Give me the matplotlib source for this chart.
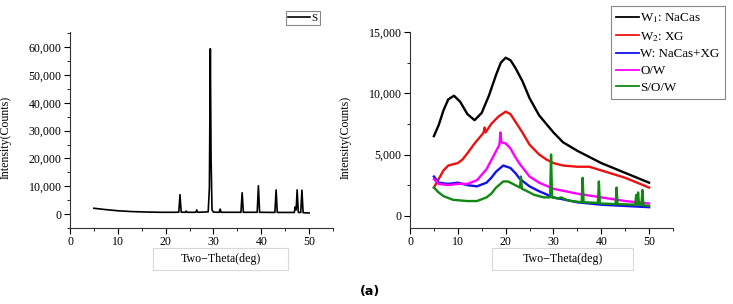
import matplotlib
matplotlib.use("Agg")
import matplotlib.pyplot as plt
from matplotlib.ticker import FuncFormatter, AutoMinorLocator, MultipleLocator
from matplotlib.patches import Rectangle

plt.rcParams['font.family'] = ['Liberation Serif', 'DejaVu Serif']
plt.rcParams['mathtext.fontset'] = 'stix'

# ---------- data: left panel (S) ----------
s_x = [5, 7, 10, 13, 16, 19, 22, 22.75, 23.0, 23.25, 24.1, 24.3, 24.5, 26.3, 26.5, 26.7,
       28.9, 29.15, 29.35, 29.5, 29.7, 30.0, 31.2, 31.4, 31.6, 35.75, 36.0, 36.25,
       39.15, 39.4, 39.65, 42.85, 43.1, 43.35, 46.9, 47.1, 47.3, 47.5, 47.75, 48.25,
       48.5, 48.75, 50]
s_y = [2100, 1700, 1200, 900, 750, 650, 650, 700, 7000, 700, 650, 1100, 650, 650, 1500, 650,
       800, 9500, 59500, 20000, 1500, 700, 650, 1800, 650, 650, 7700, 650,
       650, 10200, 650, 600, 8700, 600, 600, 2600, 1500, 8700, 600, 600,
       8600, 500, 400]

# ---------- data: right panel ----------
w1_x = [5, 6, 7, 8, 9.2, 10.5, 12, 13.5, 15, 16.5, 18, 19, 20, 21, 22, 23.5, 25, 27, 30,
        32, 35, 38, 40, 42.5, 45, 47.5, 50]
w1_y = [6500, 7400, 8600, 9500, 9800, 9300, 8300, 7800, 8400, 9800, 11500, 12500, 12900,
        12700, 12100, 11000, 9600, 8200, 6800, 6000, 5300, 4700, 4300, 3900, 3500, 3100, 2700]

w2_x = [5, 6, 7, 8, 9, 10, 11, 12, 13.5, 15, 15.4, 15.6, 15.8, 17, 18.5, 20, 21, 22, 23.5,
        25, 27, 28.5, 30, 32, 35, 37.5, 40, 42.5, 45, 47.5, 50]
w2_y = [2300, 3000, 3700, 4100, 4200, 4300, 4600, 5100, 5900, 6600, 6800, 7200, 6800, 7500,
        8100, 8500, 8300, 7700, 6800, 5800, 5000, 4600, 4300, 4100, 4000, 4000, 3700, 3400,
        3100, 2700, 2300]

w_x = [5, 6, 8, 10, 12, 14, 16, 17, 18, 19.5, 21, 22, 23, 25, 27, 30, 32.5, 35, 40, 45, 50]
w_y = [3200, 2700, 2600, 2700, 2500, 2400, 2700, 3100, 3600, 4100, 3900, 3500, 3000, 2400,
       2000, 1500, 1300, 1100, 900, 800, 700]

ow_x = [5, 6, 8, 10, 12, 14, 16, 17.5, 18.7, 18.9, 19.1, 20, 21, 22, 23, 25, 27, 30, 35,
        40, 45, 50]
ow_y = [3000, 2600, 2500, 2600, 2600, 2900, 3800, 4900, 5800, 6800, 6000, 5900, 5500,
        4800, 4200, 3200, 2700, 2200, 1800, 1500, 1200, 1000]

sow_x = [5, 6, 7, 9, 12, 14, 16, 17, 18, 19.5, 20.5, 22, 23.0, 23.2, 23.4, 24, 26, 28,
         29.3, 29.5, 29.7, 31, 31.6, 33, 35.9, 36.1, 36.3, 39.3, 39.5, 39.7, 43.0, 43.2,
         43.4, 47.1, 47.3, 47.5, 47.7, 47.9, 48.4, 48.6, 48.8, 50]
sow_y = [2300, 1900, 1600, 1300, 1200, 1200, 1500, 1800, 2300, 2800, 2800, 2500, 2300, 3200,
         2200, 2100, 1700, 1500, 1500, 5000, 1500, 1400, 1500, 1250, 1100, 3100, 1100,
         1050, 2800, 1000, 950, 2300, 950, 900, 1700, 900, 1900, 900, 900, 2100, 850, 800]

right_series = [
    (w1_x, w1_y, 'black', r'W$_1$: NaCas'),
    (w2_x, w2_y, '#ee1111', r'W$_2$: XG'),
    (w_x, w_y, '#1111ee', 'W: NaCas+XG'),
    (ow_x, ow_y, '#ff00ff', 'O/W'),
    (sow_x, sow_y, '#118811', 'S/O/W'),
]

W, H = 733, 304
fig = plt.figure(figsize=(W / 100, H / 100), dpi=100)

def fx(px):
    return px / W

def fy(py):
    return 1 - py / H

axL = fig.add_axes([fx(70), fy(228), fx(333) - fx(70), fy(32) - fy(228)])
axR = fig.add_axes([fx(410), fy(228), fx(673) - fx(410), fy(32) - fy(228)])

comma = FuncFormatter(lambda v, p: f"{int(round(v)):,}")
fs = 8.6

axL.plot(s_x, s_y, color='black', lw=1.2, label='S')
axL.set_xlim(0, 55)
axL.set_ylim(-5000, 65500)
axL.yaxis.set_major_locator(MultipleLocator(10000))

for xs, ys, c, lab in right_series:
    axR.plot(xs, ys, color=c, lw=1.7, label=lab)
axR.set_xlim(0, 55)
axR.set_ylim(-1000, 15000)
axR.yaxis.set_major_locator(MultipleLocator(5000))

for ax in (axL, axR):
    ax.spines['top'].set_visible(False)
    ax.spines['right'].set_visible(False)
    ax.spines['left'].set_color('#333333')
    ax.spines['bottom'].set_color('#333333')
    ax.xaxis.set_major_locator(MultipleLocator(10))
    ax.xaxis.set_minor_locator(AutoMinorLocator(2))
    ax.yaxis.set_minor_locator(AutoMinorLocator(2))
    ax.yaxis.set_major_formatter(comma)
    ax.tick_params(which='major', direction='out', length=4, width=0.8, labelsize=fs, pad=2)
    ax.tick_params(which='minor', direction='out', length=2, width=0.6)
    ax.set_ylabel('Intensity(Counts)', fontsize=fs)
    ax.yaxis.set_label_coords(-58 / 263, (228 - 137.5) / 196)

# x-labels with light boxes
for box in ((153, 288), (492, 633)):
    x0, x1 = box
    rect = Rectangle((fx(x0), fy(270)), fx(x1) - fx(x0), fy(248) - fy(270),
                     transform=fig.transFigure, fill=False, edgecolor='#d8d8d8', lw=0.8)
    fig.patches.append(rect)
    fig.text(fx((x0 + x1) / 2), fy(259), 'Two\u2212Theta(deg)', ha='center', va='center',
             fontsize=fs)

legL = axL.legend(loc='upper left', bbox_to_anchor=(fx(286), fy(11)),
                  bbox_transform=fig.transFigure, fontsize=8, handlelength=2.0,
                  handletextpad=0.1, borderpad=0.2, borderaxespad=0, fancybox=False,
                  framealpha=1, edgecolor='#888888')
legL.get_frame().set_linewidth(0.8)

legR = axR.legend(loc='upper left', bbox_to_anchor=(fx(611), fy(6)),
                  bbox_transform=fig.transFigure, fontsize=9.4, handlelength=1.75,
                  handletextpad=0.1, borderpad=0.4, labelspacing=0.36, borderaxespad=0,
                  fancybox=False, framealpha=1, edgecolor='#888888')
legR.get_frame().set_linewidth(0.8)
for line in legR.get_lines():
    line.set_linewidth(1.3)

fig.text(fx(370), fy(292), '(a)', ha='center', va='center', fontsize=9, fontweight='bold',
         family=['DejaVu Sans'])

fig.savefig('out.png', dpi=100)
